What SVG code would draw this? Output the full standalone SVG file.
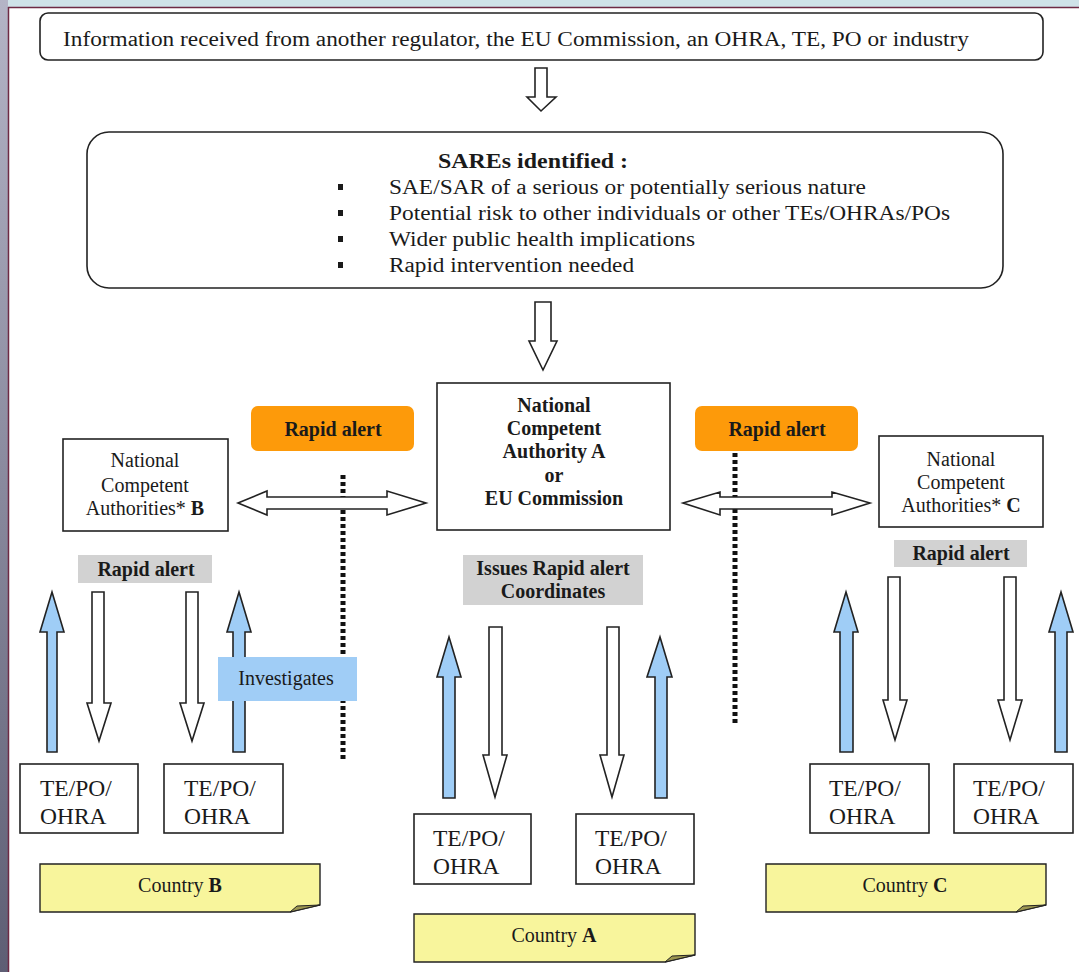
<svg xmlns="http://www.w3.org/2000/svg" width="1079" height="972" viewBox="0 0 1079 972" font-family="'Liberation Serif', 'Times New Roman', serif">
<defs>
<linearGradient id="band" x1="0" y1="0" x2="0" y2="1">
<stop offset="0" stop-color="#b4b4c6"/>
<stop offset="1" stop-color="#5e5e74"/>
</linearGradient>
<style>
text{font-family:'Liberation Serif','Times New Roman',serif;fill:#1a1a1a;font-size:20px}
.c{text-anchor:middle}
.b{font-weight:bold}
.te{font-size:23.5px}
.box{fill:#fff;stroke:#222;stroke-width:1.6}
.hollow{fill:#fff;stroke:#222;stroke-width:1.6;stroke-linejoin:miter}
.blue{fill:#9fcdf6;stroke:#222;stroke-width:1.6}
.orange{fill:#fd9a0a}
.grey{fill:#d2d2d2}
.note{fill:#f8f59c;stroke:#222;stroke-width:1.4}
.fold{fill:#9c9650;stroke:#222;stroke-width:1}
.dots{stroke:#111;stroke-width:5;stroke-dasharray:4 3;fill:none}
</style>
</defs>
<rect x="0" y="0" width="1079" height="972" fill="#fff"/>
<rect x="0" y="0" width="1079" height="7" fill="#cfe2e8"/>
<line x1="8" y1="7.5" x2="1079" y2="7.5" stroke="#6e2a44" stroke-width="1.5"/>
<rect x="0" y="0" width="8" height="972" fill="url(#band)"/>
<line x1="8.5" y1="7" x2="8.5" y2="972" stroke="#6e2a44" stroke-width="1.5"/>

<g id="connectors">
<polygon class="hollow" points="535,68 547,68 547,97 556,97 541,111 527,97 535,97"/>
<polygon class="hollow" points="535,302 551,302 551,341 557,341 543,370 529,341 535,341"/>
<line class="dots" x1="343" y1="475" x2="343" y2="762"/>
<line class="dots" x1="735" y1="453" x2="735" y2="723"/>
<polygon class="hollow" points="238,503 267,491 267,497 387,497 387,491 426,503 387,515 387,509 267,509 267,515"/>
<polygon class="hollow" points="683,503 720,492 720,497 832,497 832,492 870,503 832,515 832,509 720,509 720,515"/>
<polygon class="blue" points="52,592 64,632 57,632 57,752 47,752 47,632 40,632"/>
<polygon class="hollow" points="92,592 104,592 104,703 111,703 99,741 87,703 92,703"/>
<polygon class="hollow" points="186,592 198,592 198,703 204,703 192,741 180,703 186,703"/>
<polygon class="blue" points="239,592 251,632 245,632 245,752 233,752 233,632 227,632"/>
<polygon class="blue" points="449,637 461,677 455,677 455,798 443,798 443,677 437,677"/>
<polygon class="hollow" points="489,627 502,627 502,755 507,755 495,797 483,755 489,755"/>
<polygon class="hollow" points="607,627 619,627 619,755 624,755 612,797 600,755 607,755"/>
<polygon class="blue" points="660,637 672,677 667,677 667,798 655,798 655,677 647,677"/>
<polygon class="blue" points="846,592 858,632 853,632 853,752 840,752 840,632 834,632"/>
<polygon class="hollow" points="888,577 900,577 900,700 907,700 895,740 883,700 888,700"/>
<polygon class="hollow" points="1004,577 1016,577 1016,700 1022,700 1010,740 998,700 1004,700"/>
<polygon class="blue" points="1061,592 1073,632 1067,632 1067,752 1055,752 1055,632 1049,632"/>
</g>

<g id="info">
<rect class="box" x="40" y="13" width="1003" height="47" rx="8"/>
<text x="63" y="46" font-size="22" textLength="906" lengthAdjust="spacingAndGlyphs">Information received from another regulator, the EU Commission, an OHRA, TE, PO or industry</text>
</g>

<g id="sares">
<rect class="box" x="87" y="132" width="916" height="156" rx="22"/>
<text class="b" x="438" y="168" font-size="21" textLength="190" lengthAdjust="spacingAndGlyphs">SAREs identified :</text>
<rect x="338" y="184" width="5" height="6" fill="#1a1a1a"/>
<rect x="338" y="210" width="5" height="6" fill="#1a1a1a"/>
<rect x="338" y="236" width="5" height="6" fill="#1a1a1a"/>
<rect x="338" y="262" width="5" height="6" fill="#1a1a1a"/>
<text x="389" y="194" font-size="22" textLength="477" lengthAdjust="spacingAndGlyphs">SAE/SAR of a serious or potentially serious nature</text>
<text x="389" y="220" font-size="22" textLength="561" lengthAdjust="spacingAndGlyphs">Potential risk to other individuals or other TEs/OHRAs/POs</text>
<text x="389" y="246" font-size="22" textLength="306" lengthAdjust="spacingAndGlyphs">Wider public health implications</text>
<text x="389" y="272" font-size="22" textLength="245" lengthAdjust="spacingAndGlyphs">Rapid intervention needed</text>
</g>

<g id="nca-a">
<rect class="box" x="437" y="383" width="233" height="147"/>
<text class="b c" x="554" y="412" font-size="20.5">National</text>
<text class="b c" x="554" y="435" font-size="20.5">Competent</text>
<text class="b c" x="554" y="458" font-size="20.5">Authority A</text>
<text class="b c" x="554" y="482" font-size="20.5">or</text>
<text class="b c" x="554" y="505" font-size="20.5">EU Commission</text>
</g>

<g id="alert-left">
<rect class="orange" x="251" y="406" width="163" height="45" rx="7"/>
<text class="b c" x="333" y="436" font-size="21">Rapid alert</text>
</g>
<g id="alert-right">
<rect class="orange" x="695" y="406" width="163" height="45" rx="7"/>
<text class="b c" x="777" y="436" font-size="21">Rapid alert</text>
</g>

<g id="nca-b">
<rect class="box" x="63" y="439" width="165" height="92"/>
<text class="c" x="145" y="467">National</text>
<text class="c" x="145" y="492">Competent</text>
<text class="c" x="145" y="515">Authorities* <tspan class="b">B</tspan></text>
</g>
<g id="nca-c">
<rect class="box" x="879" y="436" width="164" height="91"/>
<text class="c" x="961" y="466">National</text>
<text class="c" x="961" y="489">Competent</text>
<text class="c" x="961" y="512">Authorities* <tspan class="b">C</tspan></text>
</g>

<g id="rapid-b">
<rect class="grey" x="78" y="555" width="134" height="28"/>
<text class="b c" x="146" y="576" font-size="21">Rapid alert</text>
</g>
<g id="rapid-c">
<rect class="grey" x="894" y="540" width="133" height="27"/>
<text class="b c" x="961" y="560" font-size="21">Rapid alert</text>
</g>
<g id="issues">
<rect class="grey" x="463" y="555" width="180" height="50"/>
<text class="b c" x="553" y="575" font-size="20.5">Issues Rapid alert</text>
<text class="b c" x="553" y="598" font-size="20.5">Coordinates</text>
</g>

<g id="investigates">
<rect x="218" y="657" width="139" height="44" fill="#a0cdf6"/>
<text class="c" x="286" y="685">Investigates</text>
</g>

<g id="te-b1"><rect class="box" x="20" y="764" width="118" height="69"/><text class="te" x="40" y="796">TE/PO/</text><text class="te" x="40" y="824">OHRA</text></g>
<g id="te-b2"><rect class="box" x="164" y="764" width="119" height="69"/><text class="te" x="184" y="796">TE/PO/</text><text class="te" x="184" y="824">OHRA</text></g>
<g id="te-a1"><rect class="box" x="414" y="814" width="117" height="70"/><text class="te" x="433" y="846">TE/PO/</text><text class="te" x="433" y="874">OHRA</text></g>
<g id="te-a2"><rect class="box" x="576" y="814" width="118" height="70"/><text class="te" x="595" y="846">TE/PO/</text><text class="te" x="595" y="874">OHRA</text></g>
<g id="te-c1"><rect class="box" x="810" y="764" width="119" height="69"/><text class="te" x="829" y="796">TE/PO/</text><text class="te" x="829" y="824">OHRA</text></g>
<g id="te-c2"><rect class="box" x="954" y="764" width="119" height="69"/><text class="te" x="973" y="796">TE/PO/</text><text class="te" x="973" y="824">OHRA</text></g>

<g id="country-b">
<polygon class="note" points="40,864 320,864 320,905 290,912 40,912"/>
<polygon class="fold" points="290,912 320,905 297,906"/>
<text class="c" x="180" y="892">Country <tspan class="b">B</tspan></text>
</g>
<g id="country-a">
<polygon class="note" points="414,914 695,914 695,955 665,962 414,962"/>
<polygon class="fold" points="665,962 695,955 672,956"/>
<text class="c" x="554" y="942">Country <tspan class="b">A</tspan></text>
</g>
<g id="country-c">
<polygon class="note" points="766,864 1046,864 1046,905 1016,912 766,912"/>
<polygon class="fold" points="1016,912 1046,905 1023,906"/>
<text class="c" x="905" y="892">Country <tspan class="b">C</tspan></text>
</g>
</svg>
